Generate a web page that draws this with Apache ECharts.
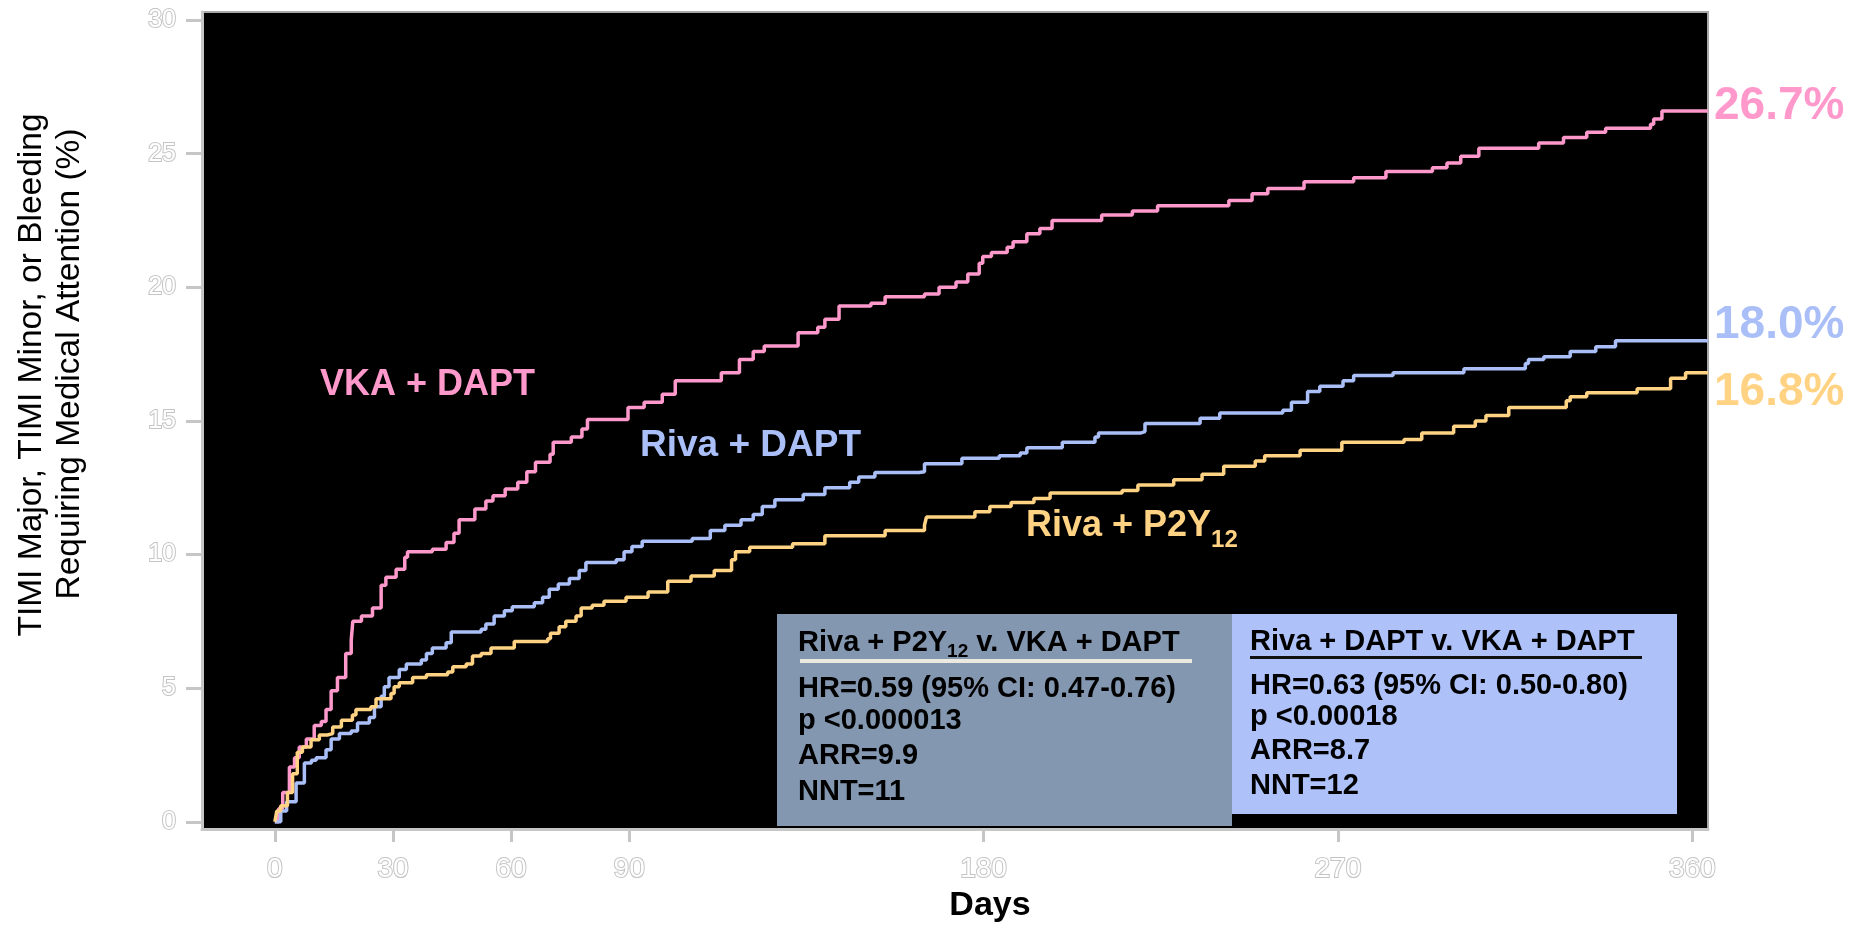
<!DOCTYPE html>
<html><head><meta charset="utf-8">
<script src="https://cdn.jsdelivr.net/npm/echarts@6/dist/echarts.min.js"></script>
<style>html,body{margin:0;padding:0;background:#fff}#c{width:1870px;height:926px}</style>
</head><body><div id="c"></div>
<script>
// ---- data ----
const xTicks = [0, 30, 60, 90, 180, 270, 360];
const yTicks = [0, 5, 10, 15, 20, 25, 30];
const seriesNames = ['VKA + DAPT', 'Riva + DAPT', 'Riva + P2Y12'];
const endLabels = ['26.7%', '18.0%', '16.8%'];
const yTitleLines = ['TIMI Major, TIMI Minor, or Bleeding', 'Requiring Medical Attention (%)'];

const vkaDapt = [[0,0],[1,0.5],[2,1.1],[3.7,2.05],[5,2.4],[6.2,2.8],[8,3.1],[10,3.6],[11.8,3.75],[13,4.2],[14.3,4.9],[15.9,5.4],[18,6.3],[19.4,6.8],[19.8,7.5],[22,7.7],[24.8,8.0],[27,8.85],[28.2,9.15],[30.8,9.45],[33,9.9],[33.7,10.1],[40,10.2],[43.5,10.45],[45.5,10.8],[46.8,11.3],[50.8,11.7],[53.6,12.0],[55.4,12.2],[58.5,12.45],[61.7,12.7],[64,13.1],[66.2,13.45],[69.9,13.75],[70.7,14.2],[75.3,14.4],[78,14.7],[79.4,15.05],[89.7,15.5],[93.8,15.7],[98.4,16.0],[101.7,16.5],[113.4,16.8],[118,17.3],[121.5,17.6],[124.3,17.8],[132.9,18.3],[137.9,18.5],[139.7,18.8],[143.3,19.3],[151.4,19.4],[155,19.65],[165,19.75],[168.7,20.0],[173,20.2],[176,20.5],[178.9,20.9],[179.8,21.15],[182,21.3],[186,21.5],[187.5,21.7],[191,22.0],[194.3,22.2],[197.4,22.5],[210,22.7],[217.8,22.85],[224.2,23.05],[242.3,23.25],[248.2,23.5],[252.2,23.7],[261.4,23.95],[274,24.1],[282.2,24.33],[294,24.47],[297.7,24.65],[301.2,24.9],[305.8,25.2],[321,25.4],[327.3,25.6],[333.2,25.8],[338,25.95],[349.4,26.1],[350.2,26.3],[352.3,26.6],[364,26.6]];

const rivaDapt = [[0,0],[1.5,0.4],[3,0.75],[5.4,1.45],[7.5,2.2],[9.3,2.3],[10.5,2.4],[13,2.7],[14.3,3.1],[16.4,3.3],[19.4,3.4],[21,3.7],[24,3.9],[25.3,4.3],[27,4.7],[27.8,5.05],[29,5.4],[31.6,5.7],[33.4,5.9],[37.2,6.05],[38.5,6.3],[40,6.5],[43.5,6.7],[44.8,7.1],[52.4,7.2],[53.6,7.4],[55.7,7.7],[58.3,7.9],[60.3,8.05],[65.9,8.2],[68,8.4],[69.7,8.7],[72,8.9],[74.8,9.1],[77.3,9.4],[79,9.7],[86.7,9.8],[88.7,10.1],[90.7,10.3],[93.3,10.5],[106,10.6],[110.6,10.9],[114.3,11.1],[118.4,11.3],[121.5,11.5],[123.8,11.8],[127,12.05],[134.2,12.25],[139.7,12.5],[146,12.7],[148.3,12.9],[152.4,13.07],[163.6,13.1],[165,13.4],[174.5,13.6],[184,13.7],[189.3,13.8],[191,14.0],[200,14.2],[208.3,14.4],[209.2,14.55],[220,14.6],[221,14.9],[235,15.1],[240,15.3],[256,15.4],[258.2,15.7],[262.3,16.1],[265.4,16.3],[271.3,16.5],[274,16.7],[284,16.8],[302,16.95],[317.6,17.15],[318.4,17.3],[322.3,17.4],[329,17.6],[335.5,17.77],[340.5,18.0],[364,18.0]];

const rivaP2y12 = [[0,0],[0.5,0.4],[1.5,0.6],[3.2,1.1],[4.5,1.8],[5.7,2.6],[7,2.8],[9.2,3.07],[11.3,3.25],[13.3,3.3],[14.7,3.55],[16.9,3.8],[19.7,4.0],[20.6,4.2],[24.4,4.3],[25.7,4.6],[29.5,4.8],[30.3,5.05],[31.6,5.2],[35,5.4],[38.5,5.5],[43.9,5.6],[45.2,5.8],[48.6,5.9],[50.2,6.2],[52.4,6.3],[54.9,6.5],[60.8,6.75],[69.3,6.85],[70,7.05],[72.2,7.3],[73.9,7.5],[76.5,7.7],[77.8,8.0],[80.6,8.1],[83.6,8.25],[89.2,8.4],[94.8,8.6],[99.8,9.0],[105.7,9.2],[111.6,9.4],[116,9.8],[117,10.1],[120.6,10.27],[131.5,10.4],[139.7,10.7],[155,10.9],[165,11.1],[165.5,11.4],[177.8,11.6],[181.6,11.8],[187,11.95],[192.8,12.1],[196.9,12.3],[215.2,12.4],[219.2,12.6],[228.3,12.8],[235.5,13.0],[241,13.3],[249,13.5],[251.4,13.7],[260.4,13.9],[271,14.2],[286.8,14.3],[291.3,14.55],[299.4,14.8],[304.9,15.0],[307.6,15.2],[313.4,15.5],[328,15.75],[329,15.9],[333.2,16.05],[346,16.2],[354.5,16.6],[358.3,16.8],[364,16.8]];

const boxGrey = ['HR=0.59 (95% CI: 0.47-0.76)', 'p <0.000013', 'ARR=9.9', 'NNT=11'];
const boxBlue = ['HR=0.63 (95% CI: 0.50-0.80)', 'p <0.00018', 'ARR=8.7', 'NNT=12'];

// ---- styling ----
const PINK = '#FF99CC', BLUE = '#AABFF8', YELL = '#FFD383';
const FONT = '"Liberation Sans", Arial, sans-serif';
const AX = '#c6c6c6';

const ctx = document.createElement('canvas').getContext('2d');
function tw(t, font) { ctx.font = font; return ctx.measureText(t).width; }

function subText(x, y, a, sub, b, size, subSize, subDy, color) {
  const f1 = 'bold ' + size + 'px ' + FONT, f2 = 'bold ' + subSize + 'px ' + FONT;
  const w1 = tw(a, f1), w2 = tw(sub, f2);
  const els = [
    {type:'text', x:x, y:y, z:50, style:{text:a, font:f1, fill:color, align:'left', verticalAlign:'middle'}},
    {type:'text', x:x + w1, y:y + subDy, z:50, style:{text:sub, font:f2, fill:color, align:'left', verticalAlign:'middle'}}
  ];
  if (b) els.push({type:'text', x:x + w1 + w2, y:y, z:50, style:{text:b, font:f1, fill:color, align:'left', verticalAlign:'middle'}});
  return els;
}

function boxLines(x, ys, lines) {
  return lines.map((t, i) => ({type:'text', x:x, y:ys[i], z:50,
    style:{text:t, font:'bold 29px ' + FONT, fill:'#000', align:'left', verticalAlign:'middle'}}));
}

const graphics = [].concat(
  [{type:'text', x:32, y:375, rotation:Math.PI/2, z:50,
    style:{text:yTitleLines[0], font:'33.5px ' + FONT, fill:'#000', align:'center', verticalAlign:'middle'}},
   {type:'text', x:70, y:364, rotation:Math.PI/2, z:50,
    style:{text:yTitleLines[1], font:'33.5px ' + FONT, fill:'#000', align:'center', verticalAlign:'middle'}},
   {type:'text', x:990, y:906, z:50, style:{text:'Days', font:'bold 34px ' + FONT, fill:'#000', align:'center', verticalAlign:'middle'}},
   {type:'text', x:320, y:385, z:50, style:{text:seriesNames[0], font:'bold 36px ' + FONT, fill:PINK, align:'left', verticalAlign:'middle'}},
   {type:'text', x:640, y:446, z:50, style:{text:seriesNames[1], font:'bold 37px ' + FONT, fill:BLUE, align:'left', verticalAlign:'middle'}}],
  subText(1026, 526, 'Riva + P2Y', '12', null, 36, 24, 14, YELL),
  [{type:'rect', z:40, shape:{x:777, y:614, width:455, height:212}, style:{fill:'#8497B0'}},
   {type:'rect', z:40, shape:{x:1232, y:614, width:445, height:200}, style:{fill:'#AEC2F9'}},
   {type:'rect', z:45, shape:{x:800, y:659, width:392, height:4}, style:{fill:'#ECEAE0'}},
   {type:'rect', z:45, shape:{x:1250, y:656, width:392, height:3}, style:{fill:'#111'}}],
  subText(798, 643, 'Riva + P2Y', '12', ' v. VKA + DAPT', 29, 19, 9, '#000'),
  [{type:'text', x:1250, y:642, z:50, style:{text:'Riva + DAPT v. VKA + DAPT', font:'bold 29px ' + FONT, fill:'#000', align:'left', verticalAlign:'middle'}}],
  boxLines(798, [689, 721, 756, 792], boxGrey),
  boxLines(1250, [686, 717, 751, 786], boxBlue)
);

function mkSeries(name, data, color, dy) {
  return {
    name: name, type:'line', step:'end', data:data, showSymbol:false, symbol:'none',
    lineStyle:{color:color, width:3.5}, itemStyle:{color:color}, clip:true, z:10,
    endLabel:{show:true, formatter:endLabels[seriesNames.indexOf(name)], color:color,
      fontSize:46, fontWeight:'bold', fontFamily:FONT, distance:6, offset:[0, dy]}
  };
}

const chart = echarts.init(document.getElementById('c'), null, {renderer:'canvas'});
chart.setOption({
  animation:false,
  backgroundColor:'#fff',
  grid:{left:202, right:162, top:12, bottom:97, show:true, backgroundColor:'#000',
    borderColor:'#a8a8a8', borderWidth:2, containLabel:false, outerBoundsMode:'none'},
  xAxis:{type:'value', min:-18.5, max:364,
    axisLine:{show:true, onZero:false, lineStyle:{color:AX, width:3}},
    axisTick:{show:true, customValues:xTicks, length:13, lineStyle:{color:AX, width:3}},
    axisLabel:{show:true, customValues:xTicks, margin:26, fontSize:28, fontFamily:FONT, color:'#fff',
      textBorderColor:'#c4c4c4', textBorderWidth:2},
    splitLine:{show:false}},
  yAxis:{type:'value', min:-0.27, max:30.3,
    axisLine:{show:true, onZero:false, lineStyle:{color:AX, width:3}},
    axisTick:{show:true, customValues:yTicks, length:16, lineStyle:{color:AX, width:3}},
    axisLabel:{show:true, customValues:yTicks, margin:26, fontSize:25, fontFamily:FONT, color:'#fff',
      textBorderColor:'#c4c4c4', textBorderWidth:2},
    splitLine:{show:false}},
  series:[
    mkSeries(seriesNames[0], vkaDapt, PINK, -5),
    mkSeries(seriesNames[1], rivaDapt, BLUE, -15),
    mkSeries(seriesNames[2], rivaP2y12, YELL, 20)
  ],
  graphic:graphics
});
</script></body></html>
